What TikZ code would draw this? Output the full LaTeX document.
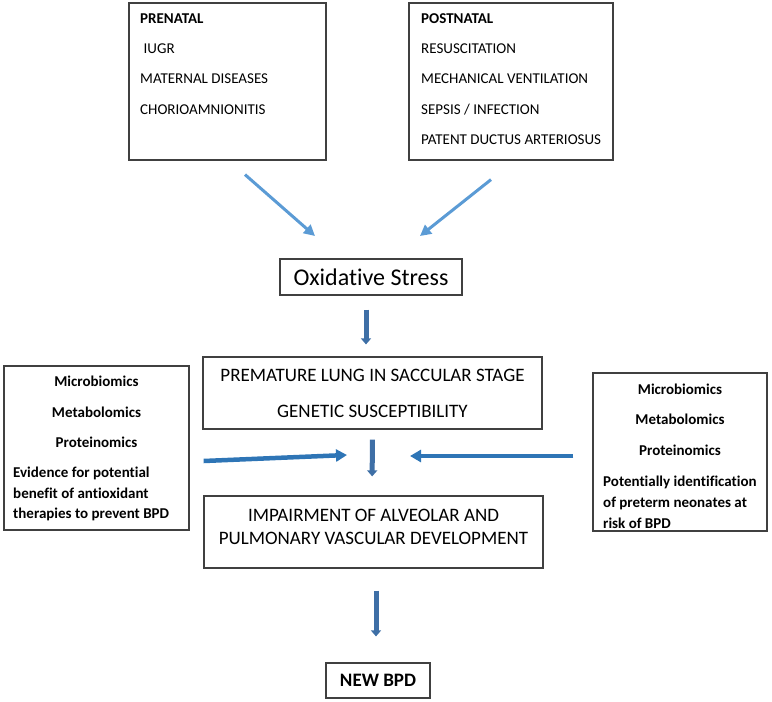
\documentclass[tikz,border=0pt]{standalone}
\usepackage{fontspec}
\setmainfont{Carlito}[Ligatures=CommonOff]
\usetikzlibrary{arrows.meta}

\definecolor{boxline}{HTML}{404040}
\definecolor{lightarrow}{HTML}{5B9BD5}
\definecolor{sidearrow}{HTML}{2E75B6}
\definecolor{downarrow}{HTML}{3E6FA6}

\tikzset{
  framebox/.style={draw=boxline, line width=1.2pt, inner sep=0pt},
  listtext/.style={inner sep=0pt, align=left, font=\fontsize{15}{30.3}\selectfont},
  omicstext/.style={inner sep=0pt, align=center, font=\bfseries\fontsize{15}{30.3}\selectfont},
  notetext/.style={inner sep=0pt, align=left, font=\bfseries\fontsize{15}{20.5}\selectfont},
  stagetext/.style={inner sep=0pt, align=center, font=\fontsize{19}{36}\selectfont},
  feedarrow/.style={lightarrow, line width=3pt, -{Triangle[length=11pt,width=11pt]}},
  omicsarrow/.style={sidearrow, line width=4.5pt, -{Triangle[length=11pt,width=12pt]}},
  stepdown/.style={downarrow, line width=5pt, -{Triangle[length=6pt,width=10pt]}}
}

\begin{document}
\begin{tikzpicture}[x=1pt, y=-1pt]
\useasboundingbox (0,0) rectangle (772,702);

% risk factors
\node[framebox, minimum width=197pt, minimum height=157pt] (prenatal) at (227.5,81.5) {};
\node[listtext, anchor=north west] (prenatalText) at (140,13.2)
  {\textbf{PRENATAL}\\\hspace{3.5pt}IUGR\\MATERNAL DISEASES\\CHORIOAMNIONITIS};
\node[framebox, minimum width=204pt, minimum height=157pt] (postnatal) at (511,81.5) {};
\node[listtext, anchor=north west] (postnatalText) at (421,13.2)
  {\textbf{POSTNATAL}\\RESUSCITATION\\MECHANICAL VENTILATION\\SEPSIS / INFECTION\\PATENT DUCTUS ARTERIOSUS};

% main chain
\node[framebox, minimum width=182pt, minimum height=36pt, font=\fontsize{24}{28}\selectfont] (oxi) at (371,277) {Oxidative Stress};
\node[framebox, stagetext, minimum width=339pt, minimum height=72pt] (lung) at (372.5,393)
  {PREMATURE LUNG IN SACCULAR STAGE\\GENETIC SUSCEPTIBILITY};
\node[framebox, minimum width=339pt, minimum height=72pt] (impair) at (373.5,532) {};
\node[stagetext, font=\fontsize{19}{23}\selectfont] (impairText) at (373.5,526.5)
  {IMPAIRMENT OF ALVEOLAR AND\\PULMONARY VASCULAR DEVELOPMENT};
\node[framebox, minimum width=104pt, minimum height=35pt, font=\bfseries\fontsize{19}{23}\selectfont] (newbpd) at (378,680.5) {NEW BPD};

% omics boxes
\node[framebox, minimum width=185pt, minimum height=164pt] (omicsL) at (96.5,448) {};
\node[omicstext, anchor=north] (omicsLList) at (96.5,376) {Microbiomics\\Metabolomics\\Proteinomics};
\node[notetext, anchor=north west] (omicsLNote) at (13,467)
  {Evidence for potential\\benefit of antioxidant\\therapies to prevent BPD};
\node[framebox, minimum width=174pt, minimum height=158pt] (omicsR) at (680,452) {};
\node[omicstext, font=\bfseries\fontsize{15}{30.5}\selectfont, anchor=north] (omicsRList) at (680,383.4)
  {Microbiomics\\Metabolomics\\Proteinomics};
\node[notetext, font=\bfseries\fontsize{15}{21}\selectfont, anchor=north west] (omicsRNote) at (603,475.4)
  {Potentially identification\\of preterm neonates at\\risk of BPD};

% arrows
\coordinate (preTip) at (315,236);
\coordinate (postTip) at (420,236);
\coordinate (leftTip) at (347,455);
\coordinate (rightTip) at (410,456);
\draw[feedarrow] ([xshift=17.5pt,yshift=-14pt]prenatal.south) -- (preTip);
\draw[feedarrow] ([xshift=-20pt,yshift=-19pt]postnatal.south) -- (postTip);
\draw[stepdown, shorten <=14pt, shorten >=12pt] ([xshift=-5pt]oxi.south) -- ([xshift=-6.5pt]lung.north);
\draw[stepdown, shorten <=10pt, shorten >=19pt] (lung.south) -- ([xshift=-1.5pt]impair.north);
\draw[stepdown, shorten <=22pt, shorten >=26pt] ([xshift=2.5pt]impair.south) -- ([xshift=-2pt]newbpd.north);
\draw[omicsarrow] ([xshift=14pt,yshift=-13pt]omicsL.east) -- (leftTip);
\draw[omicsarrow] ([xshift=-19pt,yshift=-4pt]omicsR.west) -- (rightTip);
\end{tikzpicture}
\end{document}
